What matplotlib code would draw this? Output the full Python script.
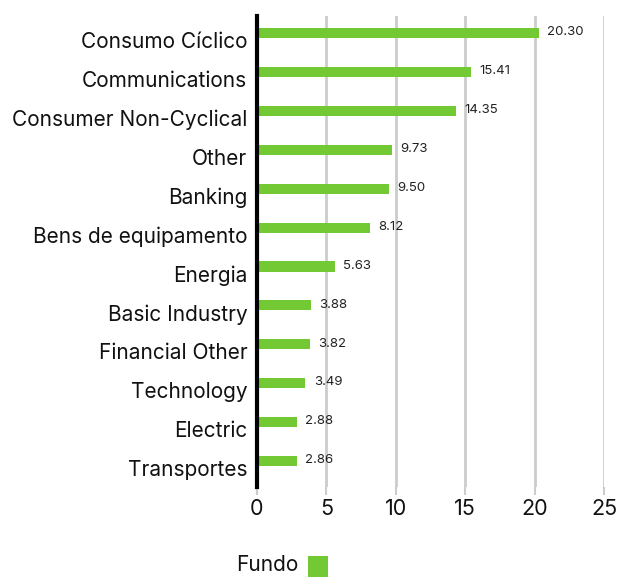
import matplotlib.pyplot as plt
from matplotlib.patches import Rectangle
from matplotlib.transforms import ScaledTranslation

categories = ["Consumo Cíclico", "Communications", "Consumer Non-Cyclical", "Other",
              "Banking", "Bens de equipamento", "Energia", "Basic Industry",
              "Financial Other", "Technology", "Electric", "Transportes"]
values = [20.30, 15.41, 14.35, 9.73, 9.50, 8.12, 5.63, 3.88, 3.82, 3.49, 2.88, 2.86]
series_name = "Fundo"
xticks = [0, 5, 10, 15, 20, 25]

GREEN = "#72c934"

plt.rcParams['font.family'] = ['Inter', 'DejaVu Sans']

fig = plt.figure(figsize=(6.17, 5.77), dpi=100)
ax = fig.add_axes([0.4165, 0.156, 0.979 - 0.4165, 0.972 - 0.156])

pos = list(range(len(categories)))
ax.barh(pos, values, height=0.26, color=GREEN, zorder=3)
for p, v in zip(pos, values):
    ax.text(v + 0.6, p - 0.02, f"{v:.2f}", va="center", ha="left", fontsize=9.5, color="#222222")

ax.set_xlim(0, 25)
ax.set_ylim(len(categories) - 0.33, -0.44)
ax.set_yticks(pos)
ax.set_yticklabels(categories, fontsize=15, color="#111111")
ax.set_xticks(xticks)
ax.set_xticklabels([str(t) for t in xticks], fontsize=15.5, color="#111111")
ax.tick_params(axis="y", length=0, pad=7)
ax.tick_params(axis="x", length=6, width=1.5, color="#cccccc", pad=3)

# category labels sit a little below the bar centre
shift = ScaledTranslation(0, -5 / 72, fig.dpi_scale_trans)
for lab in ax.get_yticklabels():
    lab.set_transform(lab.get_transform() + shift)

ax.grid(axis="x", color="#cccccc", linewidth=2, zorder=0)
for s in ["top", "right", "bottom"]:
    ax.spines[s].set_visible(False)
ax.spines["left"].set_linewidth(3)
ax.spines["left"].set_color("black")
ax.spines["left"].set_zorder(4)

fig.text(0.382, 0.003, series_name, fontsize=15, color="#111111", ha="left", va="bottom")
fig.patches.append(Rectangle((0.499, 0.0), 0.033, 0.036, transform=fig.transFigure,
                             facecolor=GREEN, edgecolor="none"))

fig.savefig("out.png", dpi=100)
